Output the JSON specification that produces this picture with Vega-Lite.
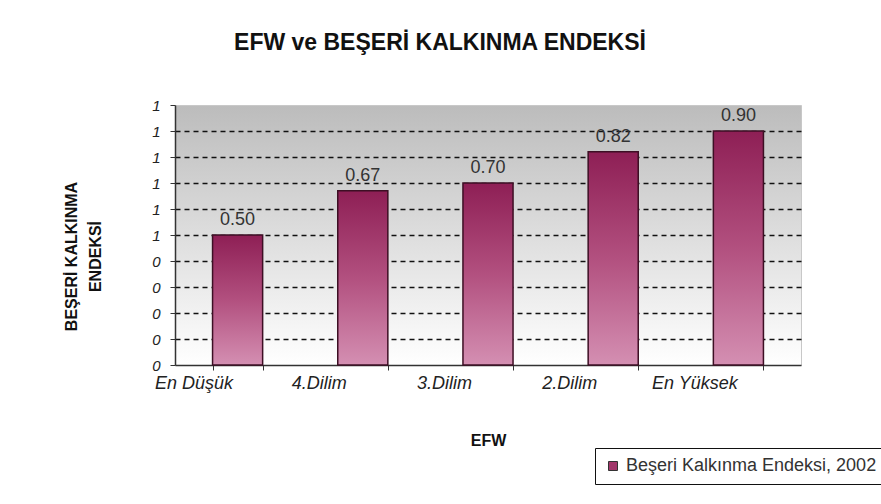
{
  "$schema": "https://vega.github.io/schema/vega-lite/v6.json",
  "autosize": {"type": "none"},
  "padding": {"left": 175, "top": 105, "right": 80, "bottom": 139},
  "width": 626,
  "height": 260,
  "background": "white",
  "title": {
    "text": "EFW ve BEŞERİ KALKINMA ENDEKSİ",
    "font": "Liberation Sans",
    "fontSize": 23,
    "fontWeight": "bold",
    "color": "#111",
    "anchor": "middle",
    "dx": -48,
    "offset": 43
  },
  "data": {
    "values": [
      {"dilim": "En Düşük", "value": 0.50, "series": "Beşeri Kalkınma Endeksi, 2002"},
      {"dilim": "4.Dilim", "value": 0.67, "series": "Beşeri Kalkınma Endeksi, 2002"},
      {"dilim": "3.Dilim", "value": 0.70, "series": "Beşeri Kalkınma Endeksi, 2002"},
      {"dilim": "2.Dilim", "value": 0.82, "series": "Beşeri Kalkınma Endeksi, 2002"},
      {"dilim": "En Yüksek", "value": 0.90, "series": "Beşeri Kalkınma Endeksi, 2002"}
    ]
  },
  "encoding": {
    "x": {
      "field": "dilim",
      "type": "nominal",
      "sort": null,
      "scale": {"paddingInner": 0.6, "paddingOuter": 0.3},
      "axis": {
        "title": "EFW",
        "titleFont": "Liberation Sans",
        "titleFontSize": 16,
        "titleFontWeight": "bold",
        "titleColor": "#111",
        "titlePadding": 40,
        "labelAngle": 0,
        "labelFont": "Liberation Sans",
        "labelFontSize": 18,
        "labelFontStyle": "italic",
        "labelColor": "#222",
        "labelOffset": -44,
        "labelPadding": 4,
        "tickBand": "extent",
        "tickSize": 5,
        "tickColor": "#333",
        "domainColor": "#333",
        "domainWidth": 1.5
      }
    },
    "y": {
      "field": "value",
      "type": "quantitative",
      "scale": {"domain": [0, 1], "nice": false},
      "axis": {
        "title": ["BEŞERİ KALKINMA", "ENDEKSİ"],
        "titleFont": "Liberation Sans",
        "titleFontSize": 16,
        "titleFontWeight": "bold",
        "titleColor": "#111",
        "titleLineHeight": 24,
        "titleBaseline": "middle",
        "titleAlign": "center",
        "titleX": -104,
        "titleY": 151,
        "values": [0, 0.1, 0.2, 0.3, 0.4, 0.5, 0.6, 0.7, 0.8, 0.9, 1],
        "labelExpr": "datum.value >= 0.5 ? '1' : '0'",
        "labelFont": "Liberation Sans",
        "labelFontSize": 15,
        "labelFontStyle": "italic",
        "labelColor": "#222",
        "labelPadding": 10,
        "tickSize": 5,
        "tickColor": "#333",
        "domainColor": "#333",
        "domainWidth": 1.5,
        "grid": true,
        "gridColor": "#111",
        "gridDash": [5, 4],
        "gridWidth": 1.3,
        "gridOpacity": {"condition": {"test": "datum.value >= 1 || datum.value <= 0", "value": 0}, "value": 1}
      }
    }
  },
  "layer": [
    {
      "mark": {"type": "square", "filled": true, "size": 40, "opacity": 1},
      "encoding": {
        "y": {"datum": 0.2},
        "color": {
          "field": "series",
          "type": "nominal",
          "scale": {"range": ["#a2376b"]},
          "legend": {
            "title": null,
            "orient": "none",
            "legendX": 420,
            "legendY": 343,
            "labelFont": "Liberation Sans",
            "labelFontSize": 18,
            "labelColor": "#333",
            "labelLimit": 0,
            "symbolType": "square",
            "symbolSize": 81,
            "symbolStrokeColor": "#333",
            "symbolStrokeWidth": 1,
            "strokeColor": "#111",
            "fillColor": "white",
            "padding": 9
          }
        }
      }
    },
    {
      "mark": {
        "type": "bar",
        "stroke": "#3d0f24",
        "strokeWidth": 1.5,
        "fill": {
          "gradient": "linear",
          "x1": 0, "y1": 0, "x2": 0, "y2": 1,
          "stops": [
            {"offset": 0, "color": "#8e1f55"},
            {"offset": 0.5, "color": "#b2507f"},
            {"offset": 1, "color": "#d48fb2"}
          ]
        }
      }
    },
    {
      "mark": {
        "type": "text",
        "baseline": "bottom",
        "dy": -6,
        "font": "Liberation Sans",
        "fontSize": 18,
        "color": "#333"
      },
      "encoding": {
        "text": {"field": "value", "type": "quantitative", "format": ".2f"}
      }
    }
  ],
  "config": {
    "view": {
      "stroke": "#c8c8c8",
      "fill": {
        "gradient": "linear",
        "x1": 0, "y1": 0, "x2": 0, "y2": 1,
        "stops": [
          {"offset": 0, "color": "#bcbcbc"},
          {"offset": 1, "color": "#ffffff"}
        ]
      }
    }
  }
}
